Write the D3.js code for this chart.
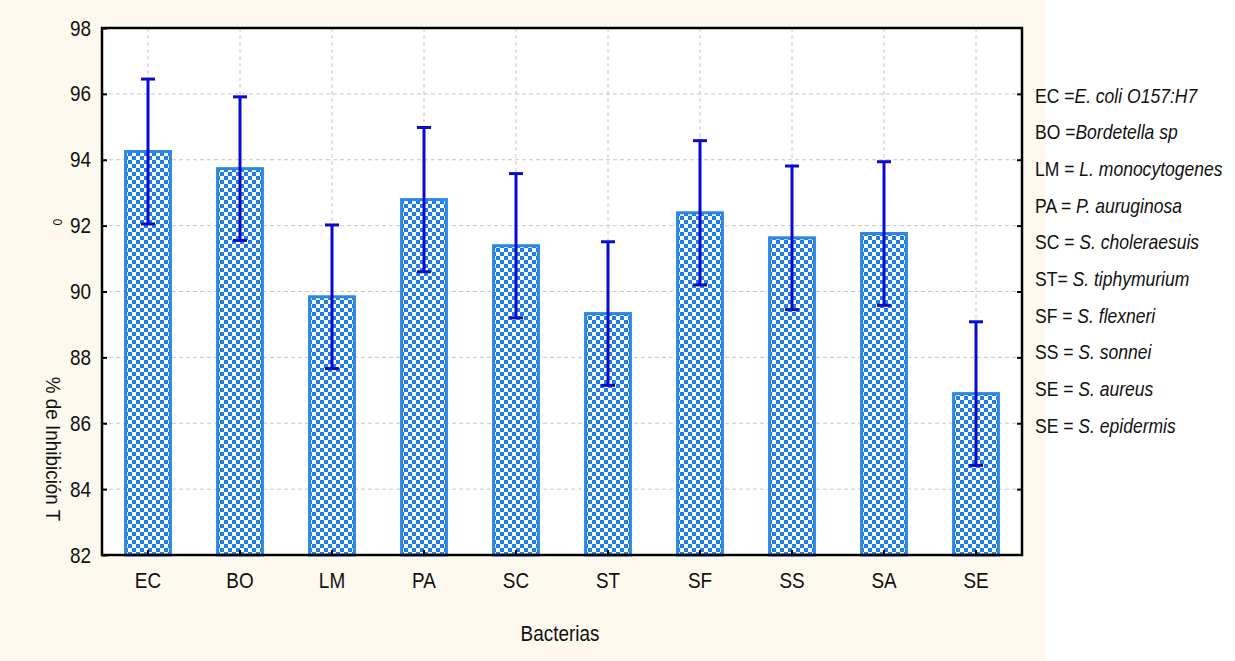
<!DOCTYPE html>
<html>
<head>
<meta charset="utf-8">
<script src="https://cdn.jsdelivr.net/npm/d3@7"></script>
<style>
  html, body { margin: 0; padding: 0; background: #ffffff; }
  svg { display: block; }
  text { font-family: "Liberation Sans", Arial, sans-serif; fill: #111; }
</style>
</head>
<body>
<svg id="chart" width="1235" height="661"></svg>
<script>
// Mean % inhibition per bacterium, with error-bar half-width
const categories = ["EC", "BO", "LM", "PA", "SC", "ST", "SF", "SS", "SA", "SE"];
const means = [94.25, 93.73, 89.84, 92.79, 91.39, 89.33, 92.39, 91.63, 91.76, 86.90];
const errors = [2.2, 2.18, 2.18, 2.19, 2.19, 2.18, 2.19, 2.18, 2.18, 2.18];
const yTicks = [82, 84, 86, 88, 90, 92, 94, 96, 98];
const legendCodes = ["EC =", "BO =", "LM = ", "PA = ", "SC = ", "ST= ", "SF = ", "SS = ", "SE = ", "SE = "];
const legendNames = ["E. coli O157:H7", "Bordetella sp", "L. monocytogenes", "P. auruginosa",
  "S. choleraesuis", "S. tiphymurium", "S. flexneri", "S. sonnei", "S. aureus", "S. epidermis"];

const svg = d3.select("#chart");
const W = 1235, H = 661;
const m = { left: 102, right: 1022, top: 28, bottom: 555 };
const NARROW = 0.86;   // horizontal squeeze giving a narrow sans look

// cream page area behind the plot
svg.append("rect").attr("x", 0).attr("y", 0).attr("width", 1046).attr("height", H).attr("fill", "#fdf9ef");

const x = d3.scaleBand().domain(categories).range([m.left, m.right]).paddingInner(0.48).paddingOuter(0.24);
const y = d3.scaleLinear().domain([82, 98]).range([m.bottom, m.top]);

// checkerboard fill for bars
const defs = svg.append("defs");
const pat = defs.append("pattern").attr("id", "checker").attr("patternUnits", "userSpaceOnUse")
  .attr("width", 8).attr("height", 8);
pat.append("rect").attr("width", 8).attr("height", 8).attr("fill", "#ffffff");
pat.append("rect").attr("x", 0).attr("y", 0).attr("width", 4).attr("height", 4).attr("fill", "#1f7fe6");
pat.append("rect").attr("x", 4).attr("y", 4).attr("width", 4).attr("height", 4).attr("fill", "#1f7fe6");

// plot background
svg.append("rect").attr("x", m.left).attr("y", m.top).attr("width", m.right - m.left)
  .attr("height", m.bottom - m.top).attr("fill", "#ffffff");

// grid
const grid = svg.append("g").attr("stroke", "#c8c8c8").attr("stroke-width", 1).attr("stroke-dasharray", "4,3");
grid.selectAll("line.h").data(yTicks.slice(1, -1)).join("line")
  .attr("x1", m.left).attr("x2", m.right).attr("y1", d => y(d)).attr("y2", d => y(d));
grid.selectAll("line.v").data(categories).join("line")
  .attr("x1", d => x(d) + x.bandwidth() / 2).attr("x2", d => x(d) + x.bandwidth() / 2)
  .attr("y1", m.top).attr("y2", m.bottom);

// bars
svg.append("g").selectAll("rect").data(categories).join("rect")
  .attr("x", d => x(d) + 1.5)
  .attr("y", (d, i) => y(means[i]))
  .attr("width", x.bandwidth() - 3)
  .attr("height", (d, i) => y(82) - y(means[i]))
  .attr("fill", "url(#checker)")
  .attr("stroke", "#2a86e8").attr("stroke-width", 3);

// error bars
const eb = svg.append("g").attr("stroke", "#0a0ad0").attr("stroke-width", 3);
categories.forEach((c, i) => {
  const cx = x(c) + x.bandwidth() / 2;
  eb.append("line").attr("x1", cx).attr("x2", cx).attr("y1", y(means[i] + errors[i])).attr("y2", y(means[i] - errors[i]));
  eb.append("line").attr("x1", cx - 7).attr("x2", cx + 7).attr("y1", y(means[i] + errors[i])).attr("y2", y(means[i] + errors[i]));
  eb.append("line").attr("x1", cx - 7).attr("x2", cx + 7).attr("y1", y(means[i] - errors[i])).attr("y2", y(means[i] - errors[i]));
});

// squeeze axis tick labels horizontally, keeping their anchor position
function narrowTicks(sel, size) {
  sel.selectAll(".tick text").each(function () {
    const t = d3.select(this);
    const tx = +t.attr("x") || 0;
    t.attr("x", tx / NARROW).attr("transform", `scale(${NARROW},1)`)
      .attr("font-size", size).attr("font-family", null).attr("fill", "#111");
  });
}

// axes (inward ticks)
const yAxisL = d3.axisLeft(y).tickValues(yTicks).tickSize(-5).tickPadding(11);
const gL = svg.append("g").attr("transform", `translate(${m.left},0)`).call(yAxisL);
gL.select(".domain").remove();
gL.selectAll("line").attr("stroke", "#000").attr("stroke-width", 2);
narrowTicks(gL, 22);

const yAxisR = d3.axisRight(y).tickValues(yTicks.slice(1, -1)).tickSize(-5).tickFormat("");
const gR = svg.append("g").attr("transform", `translate(${m.right},0)`).call(yAxisR);
gR.select(".domain").remove();
gR.selectAll("line").attr("stroke", "#000").attr("stroke-width", 2);

const xAxis = d3.axisBottom(x).tickSize(-5).tickPadding(17);
const gX = svg.append("g").attr("transform", `translate(0,${m.bottom})`).call(xAxis);
gX.select(".domain").remove();
gX.selectAll("line").attr("stroke", "#000").attr("stroke-width", 2);
narrowTicks(gX, 22);

// frame
svg.append("rect").attr("x", m.left).attr("y", m.top).attr("width", m.right - m.left)
  .attr("height", m.bottom - m.top).attr("fill", "none").attr("stroke", "#000").attr("stroke-width", 2.5);

// axis titles
svg.append("text").attr("transform", `translate(560,641) scale(${NARROW},1)`).attr("text-anchor", "middle")
  .attr("font-size", 22).text("Bacterias");
svg.append("text").attr("transform", "translate(46,449) rotate(90) scale(0.9,1)").attr("text-anchor", "middle")
  .attr("font-size", 21).text("% de Inhibición T");
svg.append("text").attr("transform", "translate(53,222) rotate(90)").attr("text-anchor", "middle")
  .attr("font-size", 12).text("0");

// legend
const lg = svg.append("g");
legendNames.forEach((n, i) => {
  const t = lg.append("text")
    .attr("transform", `translate(1035,${102.5 + i * 36.7}) scale(0.835,1)`)
    .attr("font-size", 21);
  t.append("tspan").text(legendCodes[i]);
  t.append("tspan").attr("font-style", "italic").text(n);
});
</script>
</body>
</html>
